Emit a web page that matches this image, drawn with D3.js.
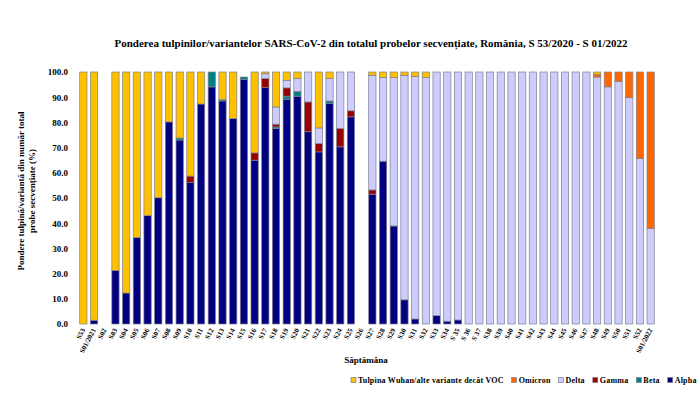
<!DOCTYPE html>
<html>
<meta charset="utf-8">
<style>
body { margin: 0; background: #fff; }
text { font-family: "Liberation Serif", "Times New Roman", serif; font-weight: bold; fill: #000; }
</style>
<body>
</body>
<script src="https://cdn.jsdelivr.net/npm/d3@7"></script>
<script>

// weeks, S53/2020 .. S01/2022
var weeks = ["S53", "S01/2021", "S02", "S03", "S04", "S05", "S06", "S07", "S08", "S09",
  "S10", "S11", "S12", "S13", "S14", "S15", "S16", "S17", "S18", "S19",
  "S20", "S21", "S22", "S23", "S24", "S25", "S26", "S27", "S28", "S29",
  "S30", "S31", "S32", "S33", "S34", "S 35", "S 36", "S 37", "S38", "S39",
  "S40", "S41", "S42", "S43", "S44", "S45", "S46", "S47", "S48", "S49",
  "S50", "S51", "S52", "S01/2022"];

// percentages (null = no samples that week)
var alpha = [0, 1.5, null, 21.2, 12.3, 34.3, 43.0, 50.1, 80.2, 73.0,
  56.1, 87.3, 94.1, 88.5, 81.5, 97.0, 65.0, 93.8, 77.6, 89.2,
  90.4, 76.3, 68.3, 87.5, 70.3, 82.2, null, 51.5, 64.6, 38.9,
  9.6, 2.0, 0, 3.3, 1.1, 1.6, 0, 0, 0, 0,
  0, 0, 0, 0, 0, 0, 0, 0, 0, 0,
  0, 0, 0, 0];
var beta = [0, 0, null, 0, 0, 0, 0, 0, 0, 0.8,
  0, 0, 5.9, 0.5, 0, 1.0, 0, 0, 0.6, 1.2,
  1.9, 0, 0, 1.0, 0, 0, null, 0, 0, 0,
  0, 0, 0, 0, 0, 0, 0, 0, 0, 0,
  0, 0, 0, 0, 0, 0, 0, 0, 0, 0,
  0, 0, 0, 0];
var gamma = [0, 0, null, 0, 0, 0, 0, 0, 0, 0,
  2.6, 0, 0, 0, 0, 0, 2.9, 3.6, 1.1, 3.3,
  0, 11.8, 3.3, 0, 7.3, 2.4, null, 1.7, 0, 0,
  0, 0, 0, 0, 0, 0, 0, 0, 0, 0,
  0, 0, 0, 0, 0, 0, 0, 0, 0, 0,
  0, 0, 0, 0];
var delta = [0, 0, null, 0, 0, 0, 0, 0, 0, 0,
  0, 0, 0, 0, 0, 0, 0, 1.9, 6.8, 3.0,
  5.1, 11.9, 6.2, 8.9, 22.4, 15.4, null, 45.5, 33.2, 58.9,
  89.1, 96.3, 97.8, 96.7, 98.9, 98.4, 100, 100, 100, 100,
  100, 100, 100, 100, 100, 100, 100, 100, 98.0, 94.1,
  96.3, 89.8, 65.7, 38.0];
var omicron = [0, 0, null, 0, 0, 0, 0, 0, 0, 0,
  0, 0, 0, 0, 0, 0, 0, 0, 0, 0,
  0, 0, 0, 0, 0, 0, null, 0, 0, 0,
  0, 0, 0, 0, 0, 0, 0, 0, 0, 0,
  0, 0, 0, 0, 0, 0, 0, 0, 1.1, 5.9,
  3.7, 10.2, 34.3, 62.0];
var wuhan = [100, 98.5, null, 78.8, 87.7, 65.7, 57.0, 49.9, 19.8, 26.2,
  41.3, 12.7, 0, 11.0, 18.5, 0, 32.1, 0.7, 13.9, 3.3,
  2.6, 0, 22.2, 2.6, 0, 0, null, 1.3, 2.2, 2.2,
  1.3, 1.7, 2.2, 0, 0, 0, 0, 0, 0, 0,
  0, 0, 0, 0, 0, 0, 0, 0, 0.9, 0,
  0, 0, 0, 0];

var seriesKeys = ["alpha", "beta", "gamma", "delta", "omicron", "wuhan"];
var seriesNames = {
  wuhan: "Tulpina Wuhan/alte variante decât VOC",
  omicron: "Omicron", delta: "Delta", gamma: "Gamma", beta: "Beta", alpha: "Alpha"
};
var colors = {
  alpha: "#000080", beta: "#008080", gamma: "#990000",
  delta: "#ccccff", omicron: "#ff6600", wuhan: "#ffc000"
};

var width = 700, height = 393;
var margin = {left: 78, right: 44, top: 72, bottom: 69};

var rows = weeks.map(function (w, i) {
  return {week: w, alpha: alpha[i], beta: beta[i], gamma: gamma[i],
    delta: delta[i], omicron: omicron[i], wuhan: wuhan[i]};
});

var svg = d3.select("body").append("svg")
  .attr("width", width)
  .attr("height", height);

svg.append("rect").attr("width", width).attr("height", height).attr("fill", "#fff");

var x = d3.scaleBand()
  .domain(weeks)
  .range([margin.left, width - margin.right])
  .paddingInner(0.32)
  .paddingOuter(0.16);

var y = d3.scaleLinear()
  .domain([0, 100])
  .range([height - margin.bottom, margin.top]);

var stack = d3.stack()
  .keys(seriesKeys)
  .value(function (d, k) { return d[k] || 0; });

var layers = stack(rows);

svg.append("g").attr("class", "bars")
  .selectAll("g")
  .data(layers).enter()
  .append("g")
    .attr("fill", function (d) { return colors[d.key]; })
  .selectAll("rect")
  .data(function (d) { return d.filter(function (p) { return p[1] - p[0] > 0; }); })
  .enter().append("rect")
    .attr("x", function (d) { return x(d.data.week); })
    .attr("width", x.bandwidth())
    .attr("y", function (d) { return y(d[1]); })
    .attr("height", function (d) { return y(d[0]) - y(d[1]); })
    .attr("stroke", "#7f7f8f")
    .attr("stroke-width", 0.7);

// y axis
var yAxis = svg.append("g")
  .attr("transform", "translate(" + (margin.left - 2) + ",0)")
  .call(d3.axisLeft(y).tickValues(d3.range(0, 101, 10)).tickFormat(d3.format(".1f")).tickSize(0).tickPadding(8));
yAxis.select(".domain").remove();
yAxis.selectAll("text")
  .style("font-family", "Liberation Serif, serif")
  .style("font-weight", "bold")
  .style("font-size", "9px");

// x axis labels
svg.append("g").attr("class", "xlabels")
  .selectAll("text")
  .data(weeks).enter()
  .append("text")
    .attr("transform", function (d) {
      return "translate(" + (x(d) + x.bandwidth() / 2 + 2) + "," + (y(0) + 6) + ")rotate(-62)";
    })
    .attr("text-anchor", "end")
    .style("font-size", "7px")
    .text(function (d) { return d; });

// title
svg.append("text")
  .attr("x", 371)
  .attr("y", 47)
  .attr("text-anchor", "middle")
  .style("font-size", "11px")
  .text("Ponderea tulpinilor/variantelor SARS-CoV-2 din totalul probelor secvențiate, România, S 53/2020 - S 01/2022");

// y title
var yt = svg.append("text")
  .attr("transform", "translate(24,191)rotate(-90)")
  .attr("text-anchor", "middle")
  .style("font-size", "9px");
yt.append("tspan").attr("x", 0).attr("dy", 0).text("Pondere tulpină/variantă  din număr total");
yt.append("tspan").attr("x", 0).attr("dy", 11).text("probe secvențiate (%)");

// x title
svg.append("text")
  .attr("x", 366)
  .attr("y", 363)
  .attr("text-anchor", "middle")
  .style("font-size", "9px")
  .text("Săptămâna");

// legend
var legend = svg.append("g").attr("class", "legend");
var lx = 351, ly = 383;
seriesKeys.slice().reverse().forEach(function (k) {
  legend.append("rect")
    .attr("x", lx).attr("y", ly - 5.5)
    .attr("width", 5).attr("height", 5)
    .attr("fill", colors[k])
    .attr("stroke", "#7f7f8f").attr("stroke-width", 0.7);
  var t = legend.append("text")
    .attr("x", lx + 7).attr("y", ly)
    .style("font-size", "8px")
    .style("letter-spacing", "0.2px")
    .text(seriesNames[k]);
  lx += 7 + t.node().getComputedTextLength() + 8;
});

</script>
</html>
